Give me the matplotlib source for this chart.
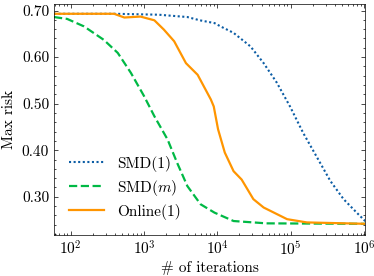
import numpy as np
import matplotlib
matplotlib.use("Agg")
import matplotlib.pyplot as plt
import matplotlib.ticker as mticker

plt.rcParams.update({
    "font.family": "serif",
    "font.serif": ["cmr10"],
    "mathtext.fontset": "cm",
    "axes.unicode_minus": False,
    "axes.formatter.use_mathtext": True,
    "font.size": 11,
    "xtick.direction": "in",
    "ytick.direction": "in",
    "xtick.top": True,
    "ytick.right": True,
    "xtick.minor.visible": True,
    "ytick.minor.visible": True,
    "xtick.major.size": 3,
    "ytick.major.size": 3,
    "xtick.minor.size": 1.5,
    "ytick.minor.size": 1.5,
    "axes.linewidth": 0.5,
    "xtick.major.width": 0.5,
    "ytick.major.width": 0.5,
    "xtick.minor.width": 0.5,
    "ytick.minor.width": 0.5,
})

# ── Data ─────────────────────────────────────────────────────────
SMD1_X = [59, 398, 1580, 3890, 5750, 9120, 11000, 16600, 28200, 42700, 64600,
          97700, 148000, 224000, 347000, 525000, 794000, 1050000]
SMD1_Y = [0.693, 0.693, 0.691, 0.686, 0.679, 0.673, 0.666, 0.652, 0.623,
          0.587, 0.545, 0.494, 0.437, 0.387, 0.334, 0.295, 0.266, 0.247]

SMDM_X = [59, 89, 151, 282, 437, 661, 1000, 1380, 2090, 2820, 3890, 5890,
          9120, 16600, 46800, 1050000]
SMDM_Y = [0.686, 0.682, 0.666, 0.637, 0.609, 0.566, 0.516, 0.473, 0.423,
          0.373, 0.323, 0.284, 0.266, 0.248, 0.243, 0.242]

ONL_X = [59, 389, 537, 891, 1380, 1860, 2570, 3720, 5370, 8130, 8910, 10200,
         12600, 16600, 21400, 30900, 42700, 52500, 89100, 166000, 1050000]
ONL_Y = [0.693, 0.693, 0.685, 0.687, 0.679, 0.659, 0.634, 0.587, 0.562,
         0.509, 0.494, 0.445, 0.395, 0.355, 0.337, 0.295, 0.277, 0.270,
         0.252, 0.245, 0.242]

fig = plt.figure(figsize=(3.74, 2.76), dpi=100)
ax = fig.add_axes([54 / 374, 1 - 235 / 276, 311 / 374, 231 / 276])

ax.plot(SMD1_X, SMD1_Y, ls=(0, (1, 1.2)), color="#0C5DA5", lw=1.5, label="SMD(1)")
ax.plot(SMDM_X, SMDM_Y, ls="--", color="#00B945", lw=1.6, label="SMD($m$)")
ax.plot(ONL_X, ONL_Y, ls="-", color="#FF9500", lw=1.6, label="Online(1)")

ax.set_xscale("log")
ax.set_xlim(59, 1.03e6)
ax.set_ylim(0.218, 0.714)
ax.yaxis.set_major_locator(mticker.MultipleLocator(0.1))
ax.yaxis.set_minor_locator(mticker.MultipleLocator(0.02))
ax.yaxis.set_major_formatter(mticker.FormatStrFormatter("%.2f"))
ax.xaxis.set_minor_locator(mticker.LogLocator(base=10, subs=np.arange(2, 10), numticks=20))
ax.xaxis.set_minor_formatter(mticker.NullFormatter())

ax.set_xlabel("# of iterations", labelpad=2)
ax.set_ylabel("Max risk", labelpad=4)
ax.legend(loc="lower left", frameon=False, handlelength=2.3,
          borderaxespad=0.6, labelspacing=0.4, fontsize=11,
          bbox_to_anchor=(0.0, 0.0))

fig.savefig("out.png", dpi=100)
